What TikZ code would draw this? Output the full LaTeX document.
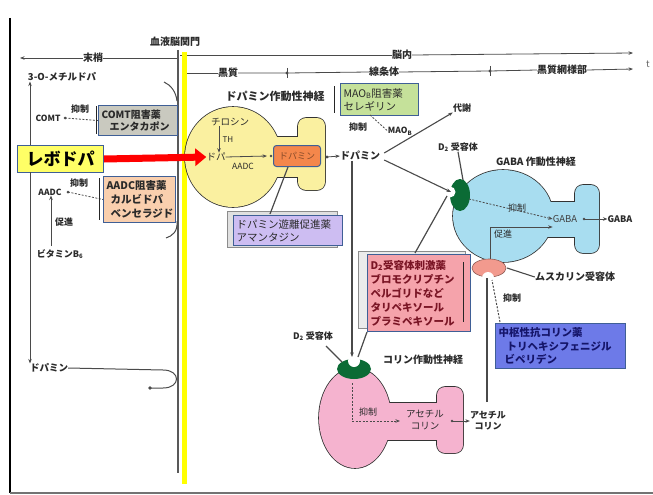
\documentclass[tikz,border=0pt]{standalone}
\usepackage{fontspec}
\setmainfont{Noto Sans CJK JP}
\usetikzlibrary{arrows.meta,calc}
\definecolor{ink}{HTML}{2A2A2A}
\definecolor{linec}{HTML}{4A4A4A}
\definecolor{levo}{HTML}{FFFF66}
\definecolor{dayel}{HTML}{FAF0A0}
\definecolor{gabablue}{HTML}{A8DDF0}
\definecolor{achpink}{HTML}{F5B3CF}
\definecolor{d2green}{HTML}{0B6B35}
\definecolor{musc}{HTML}{F29A8E}
\definecolor{orangebox}{HTML}{F4874B}
\definecolor{purplebox}{HTML}{CDBDF2}
\definecolor{greenbox}{HTML}{C5E19A}
\definecolor{peach}{HTML}{F9CFAE}
\definecolor{comtgray}{HTML}{C9C9BF}
\definecolor{redbox}{HTML}{F5A3AB}
\definecolor{bluebox}{HTML}{6D7AE8}
\definecolor{boxborder}{HTML}{3F5F96}
\definecolor{redtext}{HTML}{7A1525}
\definecolor{bluetext}{HTML}{15156A}
\definecolor{bbbyellow}{HTML}{FFFF00}
\begin{document}
\begin{tikzpicture}[x=1pt,y=-1pt,
  lbl/.style={font=\fontsize{9.5}{11}\selectfont, inner sep=0pt, text=ink},
  blbl/.style={font=\bfseries\fontsize{10}{11}\selectfont, inner sep=0pt, text=ink},
  drugbox/.style={draw=boxborder, line width=1pt, align=left, inner sep=2pt, anchor=north west, text=ink},
  conn/.style={draw=linec, line width=0.8pt},
  arr/.style={conn, -{Stealth[length=4.5pt,width=3.5pt]}},
  dsh/.style={conn, dash pattern=on 2pt off 1.5pt},
  darr/.style={dsh, -{Stealth[length=4.5pt,width=3.5pt]}},
  neur/.style={draw=black!80, line width=1.6pt},
  brk/.style={draw=black!85, line width=1pt},
  shadowbox/.style={draw=black!45, fill=black!12, line width=0.8pt}
]
\useasboundingbox (0,0) rectangle (653,495);
\fill[white] (0,0) rectangle (653,495);
% frame
\draw[black, line width=1.6pt] (10,18) -- (10,493);
\draw[black!55, line width=1.6pt] (10,493) -- (653,493);

% ---------- top axes ----------
\node[blbl] (bbb) at (175,42) {血液脳関門};
\node[blbl] (mas) at (93,58) {末梢};
\coordinate (axL) at (20,58);
\coordinate (axM) at (177,58);
\draw[arr] (mas.west) -- (axL);
\draw[conn] (mas.east) -- (axM);
\node[blbl] (nou) at (402,55) {脳内};
\coordinate (axR1) at (633,53);
\coordinate (axB1) at (180,55);
\draw[conn] (axB1) -- (nou.west);
\draw[arr] (nou.east) -- (axR1);
\node[blbl] (kok) at (228,73) {黒質};
\node[blbl] (sen) at (384,72) {線条体};
\node[blbl] (kmo) at (562,70) {黒質網様部};
\node[lbl, text=black!60] (tcut) at (648,64) {t};
\coordinate (axB2) at (186,73);
\coordinate (p1) at (287,73);
\coordinate (p2) at (490,71);
\coordinate (axR2) at (633,69);
\draw[conn] (axB2) -- (kok.west);
\draw[conn] (kok.east) -- (p1) -- (sen.west);
\draw[conn] (sen.east) -- (p2) -- (kmo.west);
\draw[arr] (kmo.east) -- (axR2);
\foreach \p in {p1,p2}{
  \draw[conn] ($(\p)+(0,-5)$) -- ($(\p)+(0,5)$);
  \fill[linec] (\p) circle (1.6pt);
}

% ---------- blood brain barrier ----------
\coordinate (bbbT) at (178,50);
\coordinate (bbbB) at (178,473);
\draw[black!65, line width=2.6pt] (bbbT) -- (bbbB);
\coordinate (yT) at (184.5,52);
\coordinate (yB) at (184.5,484);
\draw[bbbyellow, line width=4.5pt] (yT) -- (yB);

% ---------- left (peripheral) ----------
\node[lbl, font=\bfseries\fontsize{9.5}{11}\selectfont] (omd) at (62,77) {3-O-メチルドパ};
\node[drugbox, fill=levo, minimum width=86pt, minimum height=27pt, font=\bfseries\fontsize{17}{18}\selectfont, text=black, align=center, text width=80pt] (levod) at (17,145) {レボドパ};
\coordinate (vl) at (30,145);
\coordinate (vl2) at (30,172);
\node[lbl, font=\bfseries\fontsize{9.5}{11}\selectfont] (dal) at (49,368) {ドパミン};
\draw[arr] (vl) -- (omd.south -| vl);
\draw[arr] (vl2) -- (dal.north -| vl);

\node[lbl, font=\bfseries\fontsize{8.5}{10}\selectfont] (comt) at (48,118) {COMT};
\node[lbl, font=\bfseries\fontsize{9}{10}\selectfont] (yk1) at (80,109) {抑制};
\node[drugbox, fill=comtgray, minimum width=79pt, minimum height=30pt, text width=73pt, font=\bfseries\fontsize{10}{12}\selectfont] (comtbox) at (98,105) {COMT阻害薬\\\hspace*{8pt}エンタカポン};
\coordinate (cd) at (65,118);
\fill[linec] (cd) circle (1.5pt);
\draw[dsh] (cd) -- (comtbox.west);
\draw[brk] (96,106) -- (96,134);

\node[lbl, font=\bfseries\fontsize{8.5}{10}\selectfont] (aadc) at (50,192) {AADC};
\node[lbl, font=\bfseries\fontsize{9}{10}\selectfont] (yk2) at (79,183) {抑制};
\node[drugbox, fill=peach, minimum width=72pt, minimum height=46pt, text width=66pt, font=\bfseries\fontsize{10.5}{14}\selectfont] (aadcbox) at (103,176) {AADC阻害薬\\\hspace*{4pt}カルビドパ\\\hspace*{4pt}ベンセラジド};
\coordinate (ad) at (68,192);
\fill[linec] (ad) circle (1.5pt);
\draw[dsh] (ad) -- (aadcbox.west);
\draw[brk] (99,178) -- (99,220);
\node[lbl, font=\bfseries\fontsize{9}{10}\selectfont] (soku1) at (64,222) {促進};
\node[lbl, font=\bfseries\fontsize{9}{10}\selectfont] (b6) at (60,254) {ビタミンB\textsubscript{6}};
\coordinate (b6a) at (51,246);
\draw[arr] (b6a) -- (aadc.south -| b6a);

% hooks at the barrier
\coordinate (h1a) at (164,82);
\coordinate (h1b) at (177,101);
\draw[conn, line width=1pt] (h1a) .. controls (171,85) and (176,92) .. (h1b);
\coordinate (h2a) at (177,221);
\coordinate (h2b) at (166,238);
\draw[conn, line width=1pt] (h2a) .. controls (178,232) and (172,236) .. (h2b);
\coordinate (h3a) at (163,370);
\coordinate (h3b) at (163,388);
\coordinate (h3c) at (150,388);
\draw[conn, line width=1pt] (dal.east) -- (h3a) .. controls (181,370) and (181,388) .. (h3b) -- (h3c);
\fill[linec] (h3c) circle (1.8pt);

% ---------- dopamine neuron ----------
\draw[neur, fill=dayel] (233,157) ellipse [x radius=48pt, y radius=50pt];
\draw[neur, fill=dayel] (262,137) rectangle (305,177);
\draw[neur, fill=dayel, rounded corners=8pt] (298,118) rectangle (325,190);
\fill[dayel] (233,157) ellipse [x radius=48pt, y radius=50pt];
\fill[dayel] (262,137) rectangle (305,177);
\fill[dayel, rounded corners=8pt] (298,118) rectangle (325,190);

\node[blbl, font=\bfseries\fontsize{11}{12}\selectfont] (dan) at (275,96) {ドパミン作動性神経};
\node[lbl] (tyr) at (230,122) {チロシン};
\node[lbl] (dopa) at (216,157) {ドパ};
\draw[arr] (tyr.south -| 219,0) -- (dopa.north -| 219,0);
\node[lbl, font=\fontsize{8}{9}\selectfont] (th) at (228,140) {TH};
\node[drugbox, fill=orangebox, minimum width=47pt, minimum height=21pt, rounded corners=3pt, font=\fontsize{9}{10}\selectfont, text=orangebox!55!black, align=center, text width=41pt] (vesi) at (273,145) {ドパミン};
\draw[arr] (dopa.east) -- ($(vesi.west)+(-6,0)$);
\fill[linec] ($(vesi.west)+(-2,0)$) circle (1.4pt);
\node[lbl, font=\fontsize{8.5}{9}\selectfont] (aadc2) at (243,166) {AADC};
\draw[red, line width=7pt, -{Triangle[length=11pt,width=17pt]}] (levod.east) -- (dopa.west);

\node[lbl, font=\bfseries\fontsize{10}{11}\selectfont] (dam) at (360,156) {ドパミン};
\coordinate (vo) at (327,157);
\fill[linec] (vo) circle (1.6pt);
\draw[arr] (vo) -- (dam.west);

% amantadine
\draw[shadowbox] (227,211) rectangle (337,247);
\node[drugbox, fill=purplebox, minimum width=109pt, minimum height=30pt, text width=103pt, font=\fontsize{10.5}{13}\selectfont] (aman) at (233,215) {ドパミン遊離促進薬\\アマンタジン};
\draw[conn, line width=1.2pt] (vesi.south) ++(-27,0) coordinate (vs) ;
\draw[conn, line width=1.2pt] (288,167) -- (270,214);

% selegiline
\node[drugbox, fill=greenbox, minimum width=78pt, minimum height=32pt, text width=72pt, font=\fontsize{10.5}{13}\selectfont] (sel) at (340,83) {MAO\textsubscript{B}阻害薬\\セレギリン};
\draw[brk] (334,86) -- (334,113);
\node[lbl, font=\bfseries\fontsize{9}{10}\selectfont] (yk3) at (358,127) {抑制};
\node[lbl, font=\bfseries\fontsize{8.5}{10}\selectfont] (maob) at (400,131) {MAO\textsubscript{B}};
\draw[dsh] (370,115) -- (maob.west);

% metabolism
\node[lbl, font=\bfseries\fontsize{9}{10}\selectfont] (tai) at (462,108) {代謝};
\draw[arr, line width=1.1pt] ($(dam.east)+(4,-3)$) -- (tai.south west);

% ---------- GABA neuron ----------
\draw[neur, fill=gabablue] (503,216) ellipse [x radius=50pt, y radius=46pt];
\draw[neur, fill=gabablue] (540,202) rectangle (580,237);
\draw[neur, fill=gabablue, rounded corners=8pt] (575,185) rectangle (599,253);
\fill[gabablue] (503,216) ellipse [x radius=50pt, y radius=46pt];
\fill[gabablue] (540,202) rectangle (580,237);
\fill[gabablue, rounded corners=8pt] (575,185) rectangle (599,253);

\node[blbl, font=\bfseries\fontsize{10}{11}\selectfont] (gan) at (536,162) {GABA 作動性神経};
\node[lbl, font=\bfseries\fontsize{9}{10}\selectfont] (d2a) at (458,147) {D\textsubscript{2} 受容体};
% D2 receptor on GABA neuron
\fill[d2green] (460,195) ellipse [x radius=10pt, y radius=16pt];
\fill[white] (450,192) circle (5.5pt);
\coordinate (d2g) at (451,192);
\draw[conn, line width=1.2pt] (d2a.south) -- (463,180);
\draw[arr, line width=1.1pt] ($(dam.east)+(4,4)$) -- (d2g);

\node[lbl, text=black!75] (gaba1) at (565,219) {GABA};
\node[blbl, font=\bfseries\fontsize{9}{10}\selectfont] (gaba2) at (620,219) {GABA};
\node[lbl, font=\fontsize{9}{10}\selectfont] (yk4) at (517,208) {抑制};
\node[lbl, font=\fontsize{9}{10}\selectfont] (soku2) at (503,234) {促進};
\draw[darr] (469,199) -- (gaba1.west);
\coordinate (mup) at (490,227);
\draw[arr] (490,262) -- (mup) -- (mup -| gaba1.west);
\coordinate (go) at (584,219);
\fill[linec] (go) circle (1.4pt);
\draw[arr] (go) -- (gaba2.west);

% muscarinic receptor
\fill[musc, draw=musc!60!black, line width=0.6pt] (489,268) ellipse [x radius=17pt, y radius=9pt];
\fill[white] (488,278) circle (6pt);
\node[blbl, font=\bfseries\fontsize{10}{11}\selectfont] (mlab) at (575,277) {ムスカリン受容体};
\draw[conn, line width=1.1pt] (507,268) -- (mlab.west);

% anticholinergic
\node[lbl, font=\bfseries\fontsize{9}{10}\selectfont] (yk5) at (512,298) {抑制};
\node[drugbox, fill=bluebox, minimum width=130pt, minimum height=45pt, text width=124pt, font=\bfseries\fontsize{10.5}{13.5}\selectfont, text=bluetext] (antic) at (495,323) {中枢性抗コリン薬\\\hspace*{8pt}トリヘキシフェニジル\\\hspace*{6pt}ビペリデン};
\draw[dsh, line width=1pt] (500,322) -- (492,280);
\coordinate (achup) at (487,402);
\draw[conn, line width=1.4pt] (achup) -- (487,278);

% ---------- D2 agonists ----------
\draw[shadowbox, fill=black!8] (358,251) rectangle (465,328);
\node[drugbox, fill=redbox, minimum width=103pt, minimum height=77pt, text width=97pt, font=\bfseries\fontsize{10.5}{14}\selectfont, text=redtext] (agon) at (367,254) {D\textsubscript{2}受容体刺激薬\\ブロモクリプチン\\ペルゴリドなど\\タリペキソール\\プラミペキソール};
\draw[brk] (463,262) -- (463,322);
\draw[conn, line width=1.2pt] (415,253) -- (447,196);

% ---------- cholinergic neuron ----------
\draw[neur, fill=achpink] (355,418) ellipse [x radius=36pt, y radius=50pt];
\draw[neur, fill=achpink] (380,403) rectangle (442,440);
\draw[neur, fill=achpink, rounded corners=8pt] (437,387) rectangle (463,453);
\fill[achpink] (355,418) ellipse [x radius=36pt, y radius=50pt];
\fill[achpink] (380,403) rectangle (442,440);
\fill[achpink, rounded corners=8pt] (437,387) rectangle (463,453);

\fill[d2green] (354,369) ellipse [x radius=17pt, y radius=10pt];
\fill[white] (354,361) circle (6pt);
\coordinate (d2c) at (354,361);

\node[blbl, font=\bfseries\fontsize{10}{11}\selectfont] (chn) at (423,360) {コリン作動性神経};
\node[lbl, font=\bfseries\fontsize{9}{10}\selectfont] (d2b) at (313,336) {D\textsubscript{2} 受容体};
\draw[conn, line width=1.2pt] (326,346) -- (342,362);
\draw[arr, line width=1.2pt] (dam.south -| 352,0) -- (352,357);
\draw[conn, line width=1.2pt] (agon.south west) -- (358,357);

\node[lbl, font=\fontsize{9}{10}\selectfont] (yk6) at (368,412) {抑制};
\node[lbl, font=\fontsize{9.5}{12}\selectfont, align=center] (ach1) at (425,420) {アセチル\\コリン};
\draw[dsh] (352,383) -- (352,421);
\draw[darr] (352,421) -- (400,421);
\node[lbl, font=\bfseries\fontsize{9}{11}\selectfont, align=center] (ach2) at (488,421) {アセチル\\コリン};
\coordinate (ao) at (452,421);
\fill[linec] (ao) circle (1.4pt);
\draw[arr] (ao) -- (ach2.west);
\end{tikzpicture}
\end{document}
